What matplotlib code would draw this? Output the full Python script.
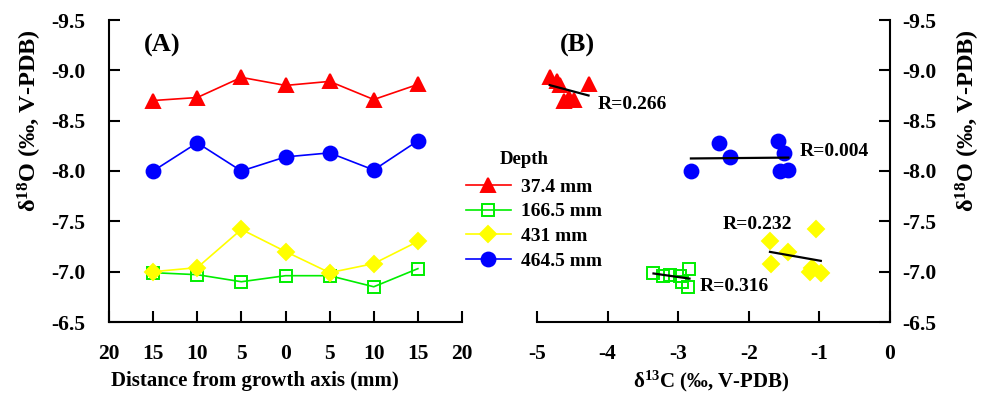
import numpy as np
import matplotlib
matplotlib.use("Agg")
import matplotlib.pyplot as plt
from matplotlib.lines import Line2D

plt.rcParams['font.family'] = ['Liberation Serif', 'DejaVu Serif']
plt.rcParams['font.weight'] = 'bold'
plt.rcParams['mathtext.fontset'] = 'custom'
plt.rcParams['mathtext.rm'] = 'Liberation Serif:bold'
plt.rcParams['mathtext.it'] = 'Liberation Serif:bold:italic'
plt.rcParams['mathtext.bf'] = 'Liberation Serif:bold'

# ---------------- data ----------------
distance = [-15, -10, -5, 0, 5, 10, 15]
depth_labels = ["37.4 mm", "166.5 mm", "431 mm", "464.5 mm"]

o18_374 = [-8.70, -8.73, -8.93, -8.85, -8.89, -8.71, -8.86]
o18_1665 = [-6.99, -6.97, -6.90, -6.96, -6.96, -6.85, -7.03]
o18_431 = [-7.00, -7.04, -7.42, -7.20, -6.99, -7.08, -7.30]
o18_4645 = [-8.00, -8.28, -8.00, -8.14, -8.18, -8.01, -8.30]

c13_374 = [-4.62, -4.55, -4.82, -4.67, -4.72, -4.48, -4.27]
c13_1665 = [-3.35, -3.12, -2.95, -2.98, -3.21, -2.86, -2.84]
c13_431 = [-1.14, -1.10, -1.05, -1.45, -0.98, -1.69, -1.70]
c13_4645 = [-2.82, -2.42, -1.56, -2.26, -1.50, -1.44, -1.59]

r_labels = ["R=0.266", "R=0.316", "R=0.232", "R=0.004"]

x_ticks_a = [-20, -15, -10, -5, 0, 5, 10, 15, 20]
x_ticklabels_a = ["20", "15", "10", "5", "0", "5", "10", "15", "20"]
x_ticks_b = [-5, -4, -3, -2, -1, 0]
y_ticks = [-9.5, -9.0, -8.5, -8.0, -7.5, -7.0, -6.5]

# ---------------- style ----------------
colors = ['#ff0000', '#00ee00', '#ffff00', '#0000ff']
markers = ['^', 's', 'D', 'o']
msizes = [10, 9, 8, 10]
faces = ['#ff0000', 'none', '#ffff00', '#0000ff']
r_pos = [(-4.14, -8.665), (-2.69, -6.85), (-2.37, -7.47), (-1.28, -8.19)]

o18_all = [o18_374, o18_1665, o18_431, o18_4645]
c13_all = [c13_374, c13_1665, c13_431, c13_4645]

W, H = 988, 401
fig = plt.figure(figsize=(W/100, H/100), dpi=100)
axA = fig.add_axes([109/W, 1-322/H, 353/W, 302/H])
axB = fig.add_axes([537/W, 1-322/H, 353/W, 302/H])

tick_fs = 15.5
lab_fs = 15
ylab_fs = 17.5
ylab = r'δ$^{\mathrm{18}}$O (‰, V-PDB)'

handles = []
for i in range(4):
    h, = axA.plot(distance, o18_all[i], color=colors[i], marker=markers[i],
                  ms=msizes[i], mfc=faces[i], mec=colors[i], mew=1.4, lw=1.2,
                  label=depth_labels[i])
    handles.append(h)
    axB.plot(c13_all[i], o18_all[i], ls='none', marker=markers[i], ms=msizes[i],
             mfc=faces[i], mec=colors[i], mew=1.4)
    xs = np.array(c13_all[i]); ys = np.array(o18_all[i])
    k, b = np.polyfit(xs, ys, 1)
    xx = np.array([xs.min(), xs.max()])
    axB.plot(xx, k*xx + b, color='black', lw=1.6)
    axB.text(r_pos[i][0], r_pos[i][1], r_labels[i], fontsize=14,
             fontweight='bold', ha='left', va='center')

# Panel A axes
axA.set_xlim(-20, 20)
axA.set_ylim(-6.5, -9.5)
axA.set_xticks(x_ticks_a)
axA.set_xticklabels(x_ticklabels_a)
axA.set_yticks(y_ticks)
axA.set_yticklabels([f"{v:.1f}" for v in y_ticks])
for s in ['top', 'right']:
    axA.spines[s].set_visible(False)
for s in ['left', 'bottom']:
    axA.spines[s].set_linewidth(1.5)
axA.tick_params(axis='both', direction='in', length=8, width=1.5,
                labelsize=tick_fs)
axA.tick_params(axis='y', pad=17)
axA.tick_params(axis='x', pad=16)
axA.set_xlabel('Distance from growth axis (mm)', fontsize=lab_fs,
               fontweight='bold', labelpad=6)
axA.xaxis.set_label_coords((255-109)/353, -(381-322)/302)
axA.xaxis.label.set_va('center')
axA.set_ylabel(ylab, fontsize=ylab_fs, fontweight='bold')
axA.yaxis.set_label_coords(-(109-30)/353, (322-121)/302)
axA.yaxis.label.set_va('center')
axA.text(-16.1, -9.25, '(A)', fontsize=19, fontweight='bold',
         ha='left', va='center')

# Panel B axes
axB.set_xlim(-5, 0)
axB.set_ylim(-6.5, -9.5)
axB.set_xticks(x_ticks_b)
axB.set_xticklabels([str(v) for v in x_ticks_b])
axB.set_yticks(y_ticks)
axB.set_yticklabels([f"{v:.1f}" for v in y_ticks])
for s in ['top', 'left']:
    axB.spines[s].set_visible(False)
for s in ['right', 'bottom']:
    axB.spines[s].set_linewidth(1.5)
axB.yaxis.tick_right()
axB.yaxis.set_label_position('right')
axB.tick_params(axis='both', direction='in', length=8, width=1.5,
                labelsize=tick_fs)
axB.tick_params(axis='y', pad=9)
axB.tick_params(axis='x', pad=16)
axB.set_xlabel(r'δ$^{\mathrm{13}}$C (‰, V-PDB)', fontsize=lab_fs,
               fontweight='bold')
axB.xaxis.set_label_coords((711-537)/353, -(381-322)/302)
axB.xaxis.label.set_va('center')
axB.set_ylabel(ylab, fontsize=ylab_fs, fontweight='bold', rotation=90)
axB.yaxis.set_label_coords((968-537)/353, (322-121)/302)
axB.yaxis.label.set_va('center')
axB.text(-4.67, -9.25, '(B)', fontsize=19, fontweight='bold',
         ha='left', va='center')

fig.text(500/W, 1-160/H, 'Depth', fontsize=13.5, fontweight='bold',
         ha='left', va='center')
leg = fig.legend(handles=handles, loc='upper left',
                 bbox_to_anchor=(462/W, 1-174/H), frameon=False,
                 prop={'size': 14, 'weight': 'bold'},
                 handlelength=2.3, labelspacing=0.37, handletextpad=0.55,
                 borderpad=0.2, borderaxespad=0)

fig.savefig('out.png', dpi=100)
